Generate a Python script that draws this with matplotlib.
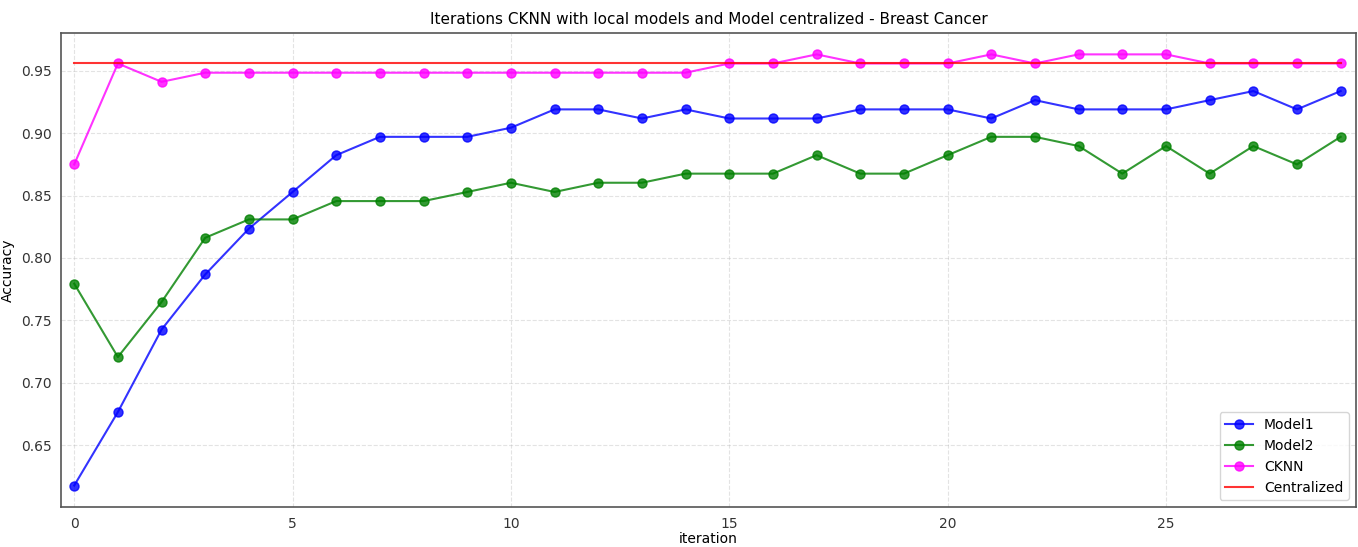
import numpy as np
import matplotlib
matplotlib.use("Agg")
import matplotlib.pyplot as plt

# accuracy per iteration (test set of 136 samples)
iterations = list(range(30))

model1 = [0.6176, 0.6765, 0.7426, 0.7868, 0.8235, 0.8529, 0.8824, 0.8971, 0.8971, 0.8971,
          0.9044, 0.9191, 0.9191, 0.9118, 0.9191, 0.9118, 0.9118, 0.9118, 0.9191, 0.9191,
          0.9191, 0.9118, 0.9265, 0.9191, 0.9191, 0.9191, 0.9265, 0.9338, 0.9191, 0.9338]

model2 = [0.7794, 0.7206, 0.7647, 0.8162, 0.8309, 0.8309, 0.8456, 0.8456, 0.8456, 0.8529,
          0.8603, 0.8529, 0.8603, 0.8603, 0.8676, 0.8676, 0.8676, 0.8824, 0.8676, 0.8676,
          0.8824, 0.8971, 0.8971, 0.8897, 0.8676, 0.8897, 0.8676, 0.8897, 0.8750, 0.8971]

cknn = [0.8750, 0.9559, 0.9412, 0.9485, 0.9485, 0.9485, 0.9485, 0.9485, 0.9485, 0.9485,
        0.9485, 0.9485, 0.9485, 0.9485, 0.9485, 0.9559, 0.9559, 0.9632, 0.9559, 0.9559,
        0.9559, 0.9632, 0.9559, 0.9632, 0.9632, 0.9632, 0.9559, 0.9559, 0.9559, 0.9559]

centralized = 0.9559

fig = plt.figure(figsize=(13.58, 5.47), dpi=100)
ax = fig.add_axes([0.045, 0.073, 0.9535, 0.867])

ax.plot(iterations, model1, "-o", color="blue", alpha=0.8, markersize=6.5, label="Model1")
ax.plot(iterations, model2, "-o", color="green", alpha=0.8, markersize=6.5, label="Model2")
ax.plot(iterations, cknn, "-o", color="magenta", alpha=0.8, markersize=6.5, label="CKNN")
ax.plot(iterations, [centralized] * len(iterations), "-", color="red",
        alpha=0.8, label="Centralized")

ax.set_xlim(-0.3, 29.35)
ax.set_title("Iterations CKNN with local models and Model centralized - Breast Cancer",
             fontsize=11)
ax.set_xlabel("iteration", labelpad=1)
ax.set_ylabel("Accuracy")
ax.grid(True, linestyle="--", alpha=0.35)
ax.tick_params(length=0, pad=7, colors="#333333")
for s in ax.spines.values():
    s.set_color("#555555")
    s.set_linewidth(1.2)

ax.legend(loc="lower right")

fig.savefig("out.png", dpi=100)
